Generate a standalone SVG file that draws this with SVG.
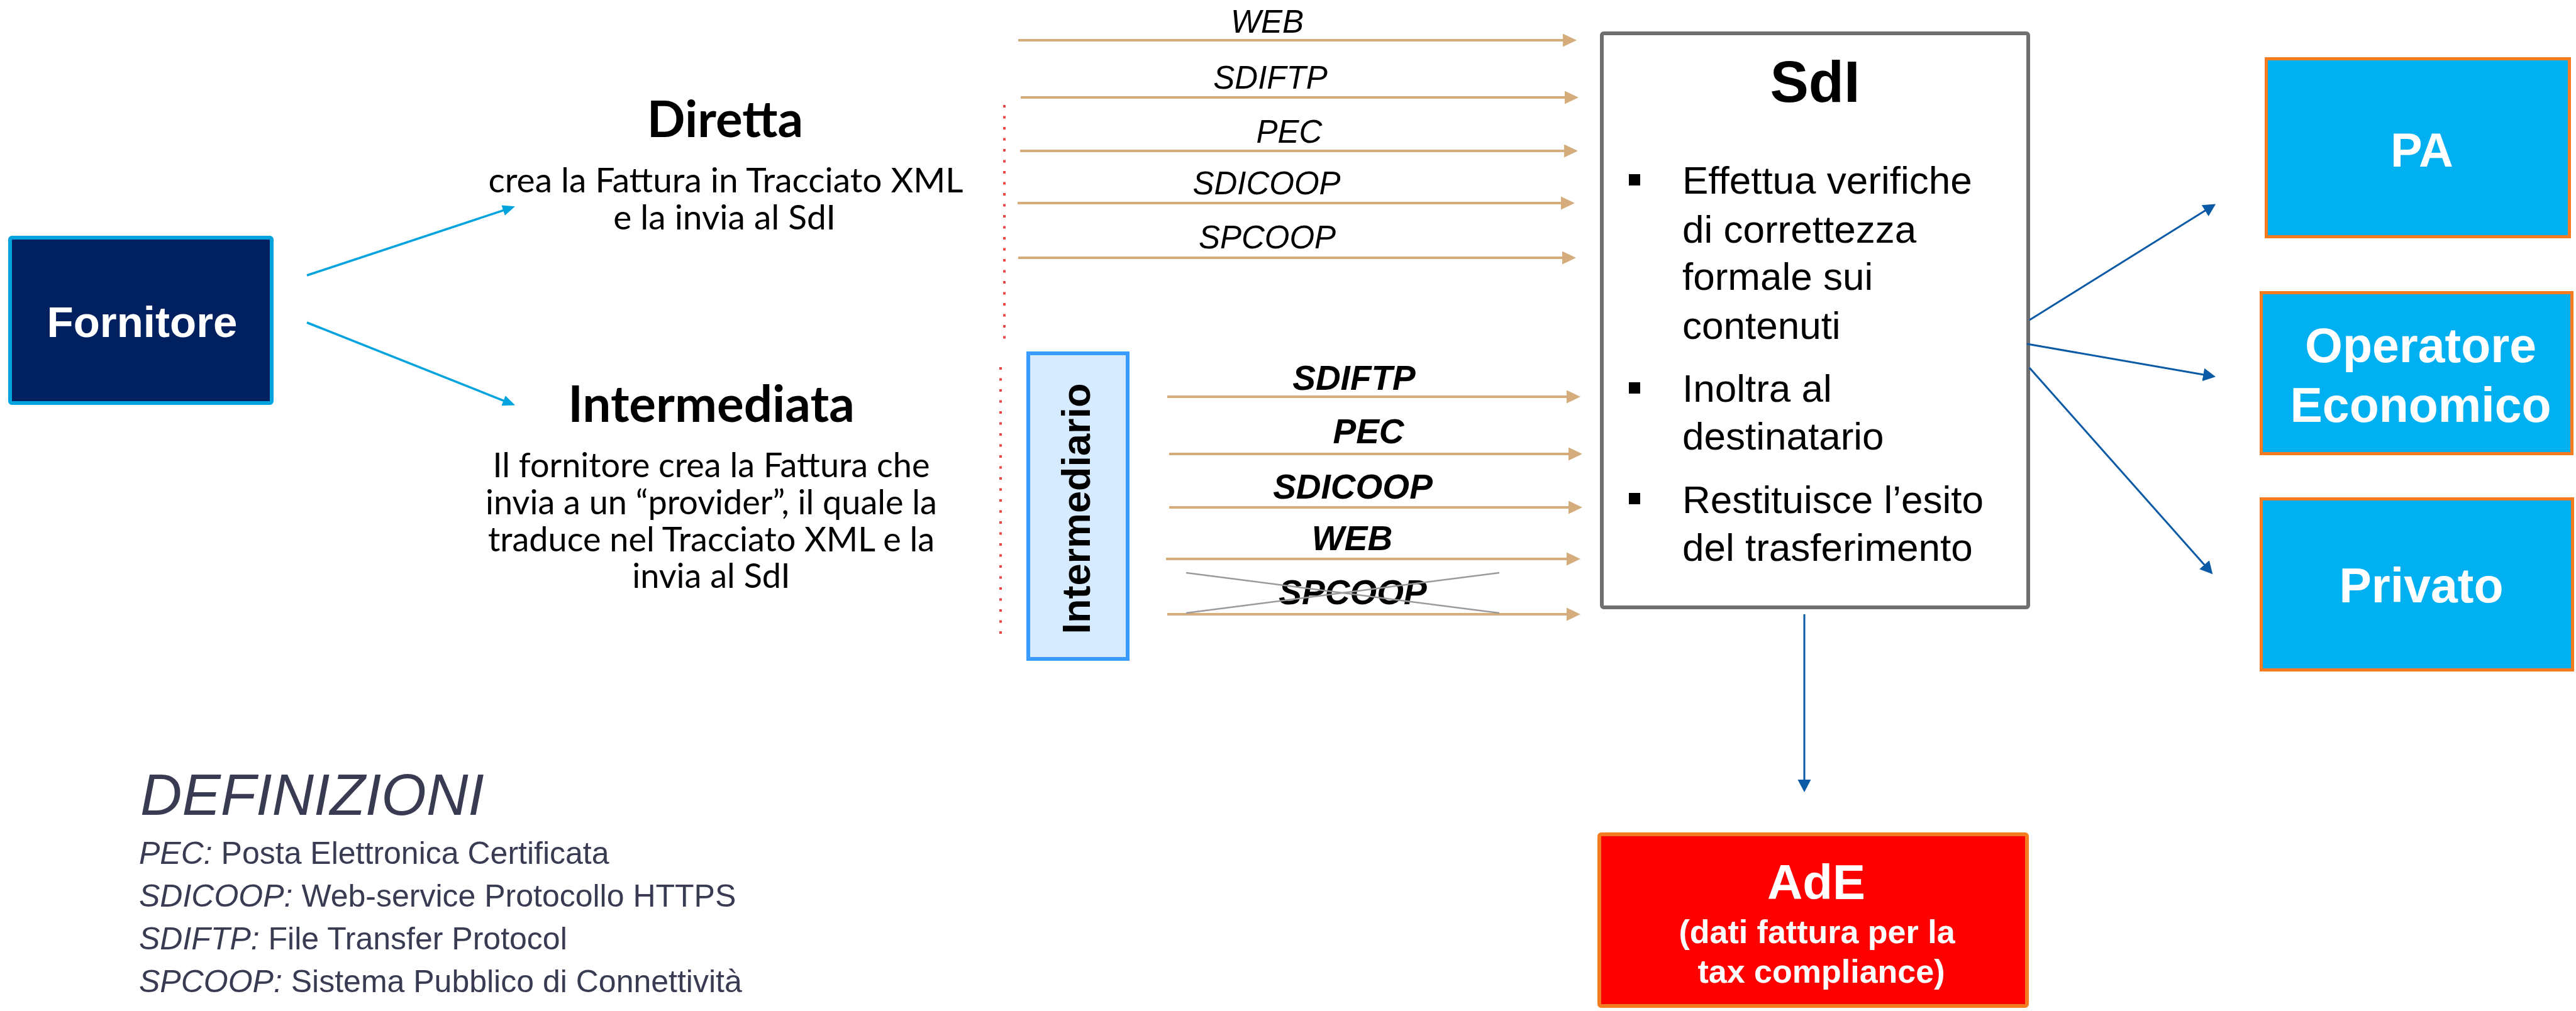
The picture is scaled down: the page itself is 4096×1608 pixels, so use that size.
<svg xmlns="http://www.w3.org/2000/svg" width="4096" height="1608" viewBox="0 0 4096 1608">
<defs>
<style>
.lato{font-family:Lato,"Liberation Sans",sans-serif;fill:#000;text-anchor:middle}
.ar{font-family:"Liberation Sans",Arial,sans-serif}
.wb{font-family:"Liberation Sans",Arial,sans-serif;font-weight:bold;fill:#fff;text-anchor:middle}
.lbl{font-family:"Liberation Sans",Arial,sans-serif;font-style:italic;font-size:51px;fill:#000;text-anchor:middle}
.lblb{font-family:"Liberation Sans",Arial,sans-serif;font-style:italic;font-weight:bold;font-size:55px;fill:#000;text-anchor:middle}
.tan{stroke:#D5AC7B;stroke-width:4;fill:none;marker-end:url(#mTan)}
.lb{stroke:#00A3DD;stroke-width:3.5;fill:none;marker-end:url(#mLb)}
.db{stroke:#0B5AA5;stroke-width:3;fill:none;marker-end:url(#mDb)}
.dot{stroke:#EE4646;stroke-width:4;stroke-dasharray:4 13.5;fill:none}
.dest{fill:#00B0F0;stroke:#F47B20;stroke-width:5}
.sdi{font-family:"Liberation Sans",Arial,sans-serif;font-size:62px;fill:#000}
.def{font-family:"Liberation Sans",Arial,sans-serif;font-size:50px;fill:#383B52}
</style>
<marker id="mTan" markerUnits="userSpaceOnUse" markerWidth="24" markerHeight="22" refX="1" refY="10.5" orient="auto"><path d="M0,0 L22,10.5 L0,21 z" fill="#D5AC7B"/></marker>
<marker id="mLb" markerUnits="userSpaceOnUse" markerWidth="22" markerHeight="18" refX="1" refY="8.5" orient="auto"><path d="M0,0 L20,8.5 L0,17 z" fill="#00A3DD"/></marker>
<marker id="mDb" markerUnits="userSpaceOnUse" markerWidth="24" markerHeight="22" refX="1" refY="10.5" orient="auto"><path d="M0,0 L20,10.5 L0,21 z" fill="#0B5AA5"/></marker>
</defs>
<rect width="4096" height="1608" fill="#fff"/>

<g id="fornitore">
<rect x="16" y="378" width="416" height="263" rx="3" fill="#002060" stroke="#00A3DD" stroke-width="6"/>
<text class="wb" x="226" y="536" font-size="69">Fornitore</text>
</g>

<g id="diretta">
<text class="lato" x="1153" y="218" font-size="80" font-weight="bold">Diretta</text>
<text class="lato" x="1154" y="306" font-size="55">crea la Fattura in Tracciato XML</text>
<text class="lato" x="1152" y="365" font-size="55">e la invia al SdI</text>
</g>

<g id="intermediata">
<text class="lato" x="1131" y="671" font-size="80" font-weight="bold">Intermediata</text>
<text class="lato" x="1131" y="759" font-size="54">Il fornitore crea la Fattura che</text>
<text class="lato" x="1131" y="818" font-size="54">invia a un “provider”, il quale la</text>
<text class="lato" x="1131" y="877" font-size="54">traduce nel Tracciato XML e la</text>
<text class="lato" x="1131" y="935" font-size="54">invia al SdI</text>
</g>

<g id="separators">
<line class="dot" x1="1597" y1="167" x2="1597" y2="540"/>
<line class="dot" x1="1591" y1="584" x2="1591" y2="1008"/>
</g>

<g id="intermediario">
<rect x="1635" y="562" width="158" height="486" fill="#D6EBFF" stroke="#3A9BFF" stroke-width="6"/>
<text class="ar" transform="translate(1733,809) rotate(-90)" text-anchor="middle" font-size="63" font-weight="bold" fill="#000">Intermediario</text>
</g>

<g id="sdi">
<rect x="2547" y="53" width="678" height="913" rx="3" fill="#fff" stroke="#6F6F6F" stroke-width="6"/>
<text class="ar" x="2886" y="162" text-anchor="middle" font-size="92" font-weight="bold" fill="#000">SdI</text>
<rect x="2590" y="277" width="18" height="18" fill="#000"/>
<rect x="2590" y="608" width="18" height="18" fill="#000"/>
<rect x="2590" y="784" width="18" height="18" fill="#000"/>
<text class="sdi" x="2675" y="308">Effettua verifiche</text>
<text class="sdi" x="2675" y="386">di correttezza</text>
<text class="sdi" x="2675" y="461">formale sui</text>
<text class="sdi" x="2675" y="539">contenuti</text>
<text class="sdi" x="2675" y="639">Inoltra al</text>
<text class="sdi" x="2675" y="715">destinatario</text>
<text class="sdi" x="2675" y="816">Restituisce l’esito</text>
<text class="sdi" x="2675" y="892">del trasferimento</text>
</g>

<g id="pa">
<rect class="dest" x="3603.5" y="93.5" width="482" height="283"/>
<text class="wb" x="3851" y="265" font-size="76">PA</text>
</g>
<g id="operatore-economico">
<rect class="dest" x="3595.5" y="465.5" width="494" height="256"/>
<text class="wb" x="3849" y="576" font-size="77">Operatore</text>
<text class="wb" x="3849" y="671" font-size="77">Economico</text>
</g>
<g id="privato">
<rect class="dest" x="3595.5" y="793.5" width="495" height="272"/>
<text class="wb" x="3850" y="958" font-size="77">Privato</text>
</g>

<g id="ade">
<rect x="2543" y="1327" width="680" height="273" rx="3" fill="#FF0000" stroke="#F47B20" stroke-width="6"/>
<text class="wb" x="2888" y="1430" font-size="78">AdE</text>
<text class="wb" x="2889" y="1500" font-size="52">(dati fattura per la</text>
<text class="wb" x="2896" y="1563" font-size="52">tax compliance)</text>
</g>

<g id="definizioni">
<text class="ar" x="223" y="1296" font-size="92" font-style="italic" fill="#383B52">DEFINIZIONI</text>
<text class="def" x="221" y="1374"><tspan font-style="italic">PEC:</tspan> Posta Elettronica Certificata</text>
<text class="def" x="221" y="1442"><tspan font-style="italic">SDICOOP:</tspan> Web-service Protocollo HTTPS</text>
<text class="def" x="221" y="1510"><tspan font-style="italic">SDIFTP:</tspan> File Transfer Protocol</text>
<text class="def" x="221" y="1578"><tspan font-style="italic">SPCOOP:</tspan> Sistema Pubblico di Connettività</text>
</g>

<g id="connectors">
<line class="lb" x1="488" y1="438" x2="801" y2="334.3"/>
<line class="lb" x1="488" y1="513" x2="801.4" y2="637.6"/>

<line class="tan" x1="1619" y1="64" x2="2486" y2="64"/>
<line class="tan" x1="1623" y1="155" x2="2489" y2="155"/>
<line class="tan" x1="1622" y1="240" x2="2488" y2="240"/>
<line class="tan" x1="1618" y1="323" x2="2483" y2="323"/>
<line class="tan" x1="1619" y1="410" x2="2485" y2="410"/>

<line class="tan" x1="1856" y1="631" x2="2492" y2="631"/>
<line class="tan" x1="1859" y1="722" x2="2495" y2="722"/>
<line class="tan" x1="1859" y1="807" x2="2495" y2="807"/>
<line class="tan" x1="1854" y1="889" x2="2492" y2="889"/>
<line class="tan" x1="1856" y1="977" x2="2492" y2="977"/>

<line class="db" x1="3227" y1="509" x2="3507" y2="334.6"/>
<line class="db" x1="3223" y1="547" x2="3504.3" y2="596.1"/>
<line class="db" x1="3227" y1="585" x2="3505.7" y2="899"/>
<line class="db" x1="2869" y1="977" x2="2869" y2="1241"/>
</g>

<g id="channel-labels">
<text class="lbl" x="2015" y="52">WEB</text>
<text class="lbl" x="2020" y="141">SDIFTP</text>
<text class="lbl" x="2050" y="227">PEC</text>
<text class="lbl" x="2014" y="309">SDICOOP</text>
<text class="lbl" x="2015" y="395">SPCOOP</text>
<text class="lblb" x="2153" y="620">SDIFTP</text>
<text class="lblb" x="2176" y="705">PEC</text>
<text class="lblb" x="2151" y="793">SDICOOP</text>
<text class="lblb" x="2150" y="875">WEB</text>
<text class="lblb" x="2151" y="961">SPCOOP</text>
<line x1="1886" y1="911" x2="2384" y2="975" stroke="#9A9A9A" stroke-width="2.5"/>
<line x1="1886" y1="975" x2="2384" y2="911" stroke="#9A9A9A" stroke-width="2.5"/>
</g>
</svg>
